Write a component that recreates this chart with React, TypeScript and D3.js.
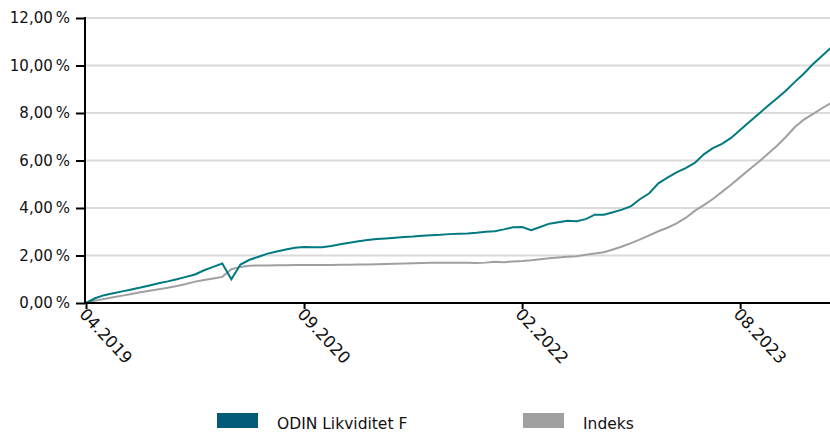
import React, { useEffect, useRef } from 'react';
import * as d3 from 'd3';

// values per step (24 steps between the date ticks)
const odin = [
  0.0, 0.2, 0.33, 0.41, 0.49, 0.57, 0.65, 0.74, 0.83, 0.91,
  1.0, 1.1, 1.2, 1.38, 1.52, 1.66, 1.0, 1.62, 1.82, 1.95,
  2.08, 2.17, 2.25, 2.33, 2.36, 2.35, 2.35, 2.4, 2.47, 2.54,
  2.6, 2.65, 2.69, 2.72, 2.75, 2.78, 2.8, 2.83, 2.85, 2.87,
  2.9, 2.92, 2.93, 2.96, 3.0, 3.02, 3.1, 3.19, 3.2, 3.07,
  3.2, 3.34, 3.4, 3.46, 3.44, 3.53, 3.72, 3.72, 3.82, 3.93,
  4.08, 4.38, 4.62, 5.04, 5.28, 5.5, 5.68, 5.9, 6.26, 6.52,
  6.7, 6.95, 7.28, 7.62, 7.95, 8.28, 8.6, 8.93, 9.3, 9.65,
  10.05, 10.4, 10.75,
];
const indeks = [
  0.0, 0.1, 0.17, 0.24, 0.31, 0.38, 0.45, 0.52, 0.58, 0.64,
  0.72, 0.8, 0.9, 0.97, 1.03, 1.1, 1.42, 1.52, 1.57, 1.58,
  1.58, 1.59, 1.59, 1.6, 1.6, 1.6, 1.6, 1.6, 1.61, 1.61,
  1.62, 1.62, 1.63, 1.64, 1.65, 1.66, 1.67, 1.68, 1.69, 1.7,
  1.7, 1.7, 1.69, 1.68, 1.7, 1.74, 1.72, 1.75, 1.77, 1.8,
  1.84, 1.88, 1.92, 1.95, 1.97, 2.03, 2.08, 2.14, 2.25, 2.38,
  2.52, 2.68, 2.85, 3.02, 3.17, 3.35, 3.58, 3.88, 4.12, 4.38,
  4.68, 4.98, 5.3, 5.62, 5.93, 6.26, 6.6, 6.98, 7.4, 7.72,
  7.95, 8.2, 8.42,
];
const tickLabels = ['04.2019', '09.2020', '02.2022', '08.2023'];
const tickSteps = [0, 24, 48, 72];
const yTicks = [0, 2, 4, 6, 8, 10, 12];
const seriesNames = ['ODIN Likviditet F', 'Indeks'];

const font = '"DejaVu Sans", sans-serif';

const App = () => {
  const ref = useRef<SVGSVGElement>(null);

  useEffect(() => {
    const svg = d3.select(ref.current);
    svg.selectAll('*').remove();

    const left = 85, right = 831, top = 18, bottom = 303;
    const x = d3.scaleLinear().domain([0, odin.length - 1]).range([left + 1, right]);
    const y = d3.scaleLinear().domain([0, 12]).range([bottom, top]);

    // gridlines
    svg.append('g')
      .selectAll('line')
      .data(yTicks.filter(d => d > 0))
      .enter()
      .append('line')
      .attr('x1', left)
      .attr('x2', 830)
      .attr('y1', d => y(d))
      .attr('y2', d => y(d))
      .attr('stroke', '#dadada')
      .attr('stroke-width', 2);

    const line = d3.line<number>().x((d, i) => x(i)).y(d => y(d));

    svg.append('path')
      .datum(indeks)
      .attr('d', line)
      .attr('fill', 'none')
      .attr('stroke', '#a0a0a0')
      .attr('stroke-width', 2);

    svg.append('path')
      .datum(odin)
      .attr('d', line)
      .attr('fill', 'none')
      .attr('stroke', '#007a80')
      .attr('stroke-width', 2);

    // y axis
    const yAxis = svg.append('g')
      .attr('transform', `translate(${left},0)`)
      .call(d3.axisLeft(y).tickValues(yTicks).tickSize(9).tickPadding(6)
        .tickFormat(d => d3.format('.2f')(d as number).replace('.', ',') + '\u2009%'));
    yAxis.select('.domain').attr('stroke', '#000').attr('stroke-width', 2).attr('d', `M0,${top - 1}V${bottom + 1}`);
    yAxis.selectAll('.tick line').attr('stroke', '#000').attr('stroke-width', 2);
    yAxis.selectAll('text')
      .attr('font-family', font)
      .attr('font-size', 15)
      .attr('fill', '#111');

    // x axis
    const xAxis = svg.append('g')
      .attr('transform', `translate(0,${bottom})`)
      .call(d3.axisBottom(x).tickValues(tickSteps).tickSize(6)
        .tickFormat((d, i) => tickLabels[i]));
    xAxis.select('.domain').attr('stroke', '#000').attr('stroke-width', 2).attr('d', `M${left},0H830`);
    xAxis.selectAll('.tick line').attr('stroke', '#000').attr('stroke-width', 2);
    xAxis.selectAll('text')
      .attr('font-family', font)
      .attr('font-size', 16.5)
      .attr('fill', '#111')
      .attr('text-anchor', 'start')
      .attr('dy', 0)
      .attr('y', 0)
      .attr('transform', 'translate(-8,12) rotate(47)');

    // legend
    const colors = ['#005a78', '#a0a0a0'];
    const lx = [217, 523];
    const lg = svg.append('g');
    seriesNames.forEach((name, i) => {
      lg.append('rect')
        .attr('x', lx[i])
        .attr('y', 413)
        .attr('width', 41)
        .attr('height', 15)
        .attr('fill', colors[i]);
      lg.append('text')
        .attr('x', lx[i] + 60)
        .attr('y', 429)
        .attr('font-family', font)
        .attr('font-size', 15.5)
        .attr('fill', '#111')
        .text(name);
    });
  }, []);

  return (
    <svg
      ref={ref}
      width={830}
      height={432}
      style={{ position: 'absolute', left: 0, top: 0, background: '#fff' }}
    />
  );
};

export default App;
